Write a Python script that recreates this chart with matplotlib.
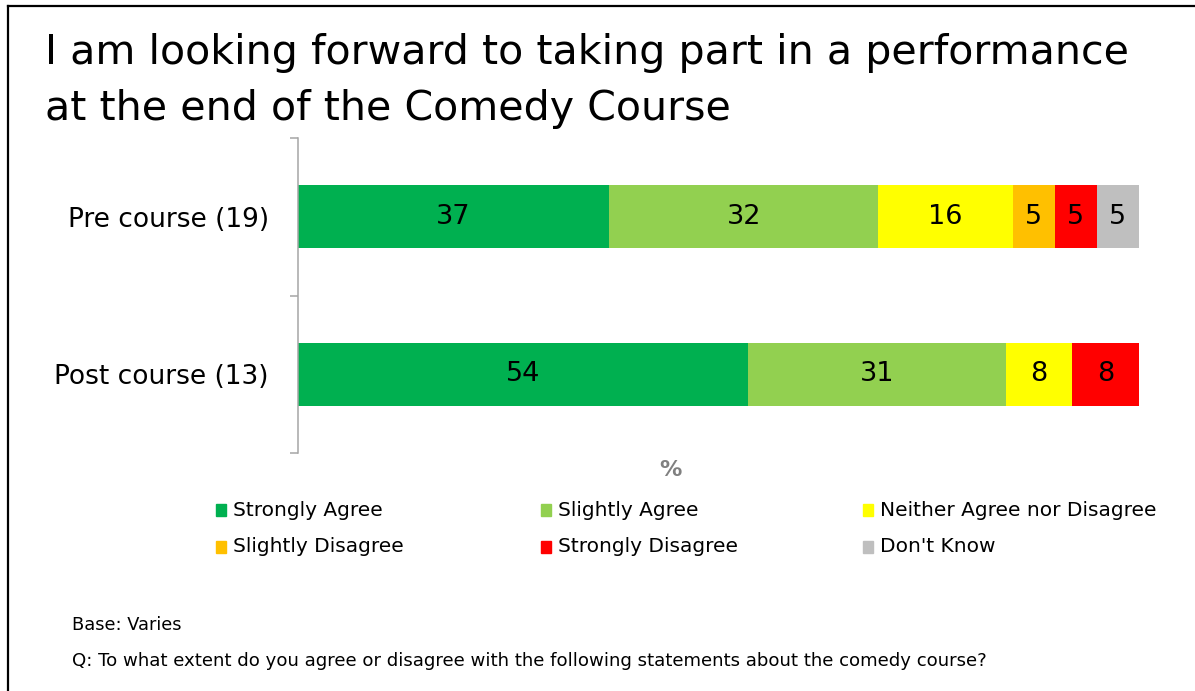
import matplotlib.pyplot as plt
from matplotlib.patches import Rectangle
from matplotlib.lines import Line2D

# survey results (%), one list per response option
groups = ['Pre course (19)', 'Post course (13)']
responses = ['Strongly Agree', 'Slightly Agree', 'Neither Agree nor Disagree',
             'Slightly Disagree', 'Strongly Disagree', "Don't Know"]
colors = ['#00B050', '#92D050', '#FFFF00', '#FFC000', '#FF0000', '#BFBFBF']
strongly_agree = [37, 54]
slightly_agree = [32, 31]
neither = [16, 8]
slightly_disagree = [5, 0]
strongly_disagree = [5, 8]
dont_know = [5, 0]

series = [strongly_agree, slightly_agree, neither,
          slightly_disagree, strongly_disagree, dont_know]
totals = [sum(s[i] for s in series) for i in range(len(groups))]

W, H = 1195, 691
plt.rcParams['font.family'] = ['DejaVu Sans']
fig = plt.figure(figsize=(W / 100, H / 100), dpi=100)


def fx(px):
    return px / W


def fy(py):
    return 1 - py / H


ax = fig.add_axes([fx(298), fy(453), fx(1139) - fx(298), fy(138) - fy(453)])

# 100% stacked bars
left = [0.0] * len(groups)
for vals, name, col in zip(series, responses, colors):
    widths = [v / t * 100 for v, t in zip(vals, totals)]
    bars = ax.barh(range(len(groups)), widths, left=left, height=0.4,
                   color=col, label=name)
    labels = [str(v) if v else '' for v in vals]
    ax.bar_label(bars, labels=labels, label_type='center', fontsize=19.5)
    left = [l + w for l, w in zip(left, widths)]

ax.set_xlim(0, 100)
ax.set_ylim(1.5, -0.5)
ax.set_yticks(range(len(groups)))
ax.set_yticklabels(groups, fontsize=19)
ax.set_yticks([-0.5, 0.5, 1.5], minor=True)
ax.tick_params(axis='y', which='major', length=0, pad=21)
ax.tick_params(axis='y', which='minor', length=6, width=1.1, color='#A6A6A6')
ax.set_xticks([])
for side in ['top', 'right', 'bottom']:
    ax.spines[side].set_visible(False)
ax.spines['left'].set_color('#A6A6A6')
ax.spines['left'].set_linewidth(1.1)

# title
fig.text(fx(45), fy(64), 'I am looking forward to taking part in a performance',
         fontsize=29.6, va='baseline')
fig.text(fx(45), fy(120), 'at the end of the Comedy Course',
         fontsize=29.6, va='baseline')

fig.text(fx(670), fy(470), '%', fontsize=16, fontweight='bold',
         color='#808080', ha='center', va='center')

# legend laid out in fixed columns
col_x = [216, 541, 863]
row_y = [510, 547]
for i, (name, col) in enumerate(zip(responses, colors)):
    cx = col_x[i % 3]
    cy = row_y[i // 3]
    fig.patches.append(Rectangle((fx(cx), fy(cy + 6)), 10 / W, 12 / H,
                                 transform=fig.transFigure, color=col))
    fig.text(fx(cx + 17), fy(cy), name, fontsize=14.5, va='center')

fig.text(fx(72), fy(625), 'Base: Varies', fontsize=12.8, va='center')
fig.text(fx(72), fy(661),
         'Q: To what extent do you agree or disagree with the following statements about the comedy course?',
         fontsize=13.1, va='center')

# frame lines
fig.lines.append(Line2D([fx(8), 1], [fy(6), fy(6)], color='black', lw=1.6,
                        transform=fig.transFigure))
fig.lines.append(Line2D([fx(8), fx(8)], [0, fy(6)], color='black', lw=1.6,
                        transform=fig.transFigure))

fig.savefig('out.png', dpi=100)
